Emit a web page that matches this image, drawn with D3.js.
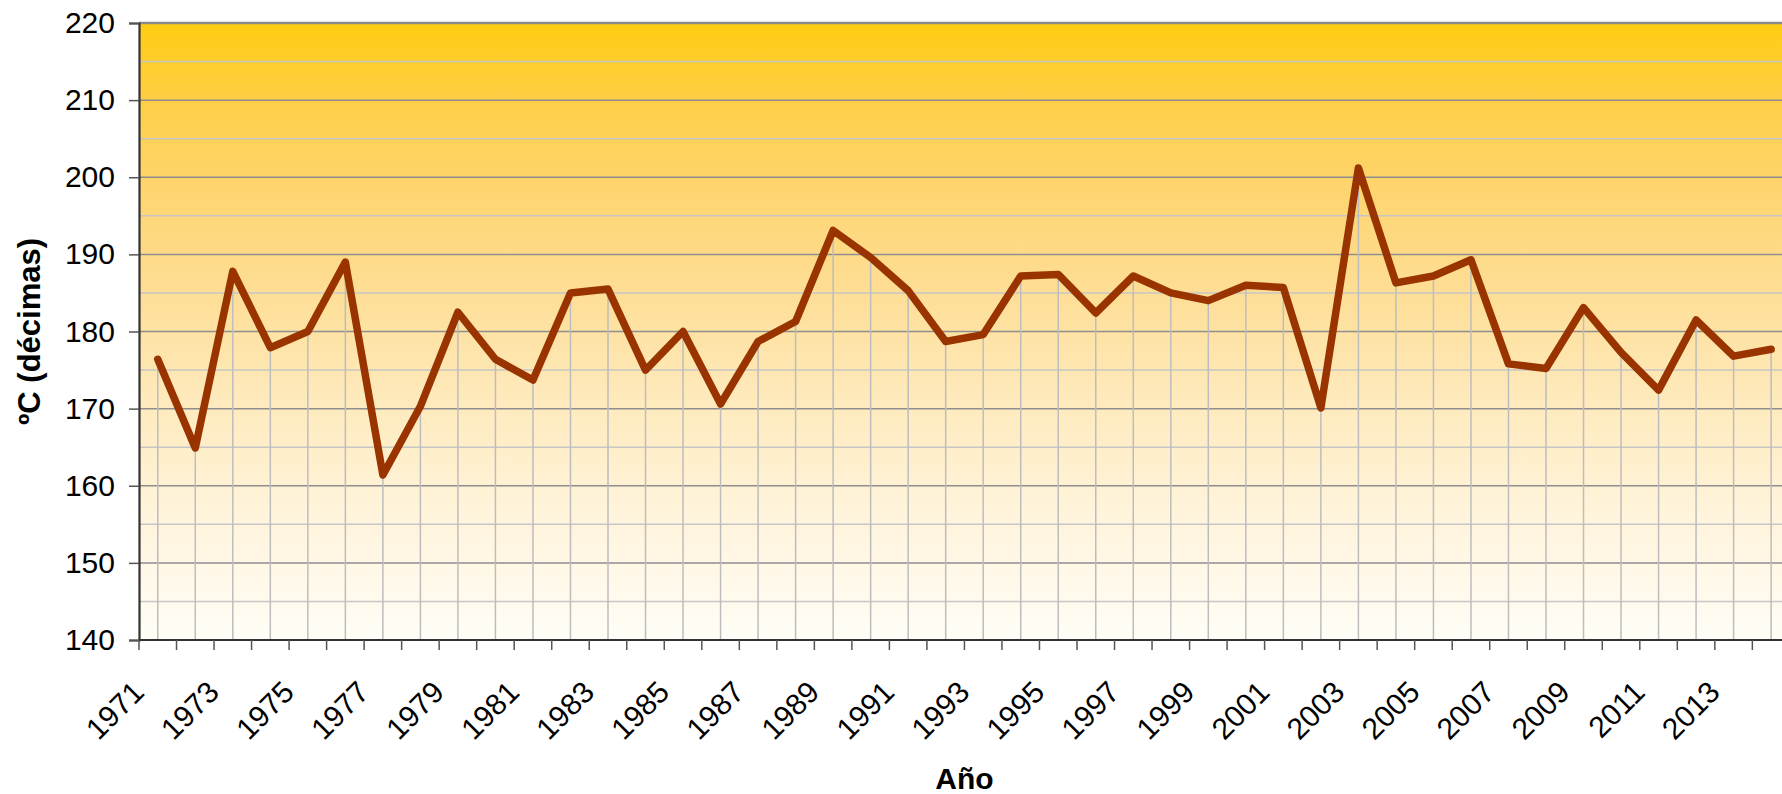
<!DOCTYPE html>
<html>
<head>
<meta charset="utf-8">
<script src="https://cdn.jsdelivr.net/npm/d3@7"></script>
<style>
  html, body { margin: 0; padding: 0; background: #ffffff; }
  svg { display: block; }
  text { font-family: "Liberation Sans", Arial, Helvetica, sans-serif; fill: #000; }
</style>
</head>
<body>
<svg id="chart" width="1782" height="794"></svg>
<script>
// ---- data ----
const years = d3.range(1971, 2015).map(String);
const values = [
  176.4, 164.9, 187.8, 177.9, 180.0, 189.0, 161.4, 170.3, 182.5, 176.4,
  173.7, 185.0, 185.5, 175.0, 180.0, 170.6, 178.7, 181.3, 193.1, 189.6,
  185.3, 178.7, 179.6, 187.2, 187.4, 182.4, 187.2, 185.0, 184.0, 186.0,
  185.7, 170.1, 201.2, 186.3, 187.2, 189.3, 175.8, 175.2, 183.1, 177.3,
  172.4, 181.5, 176.8, 177.7
];
const yMajorTicks = [140, 150, 160, 170, 180, 190, 200, 210, 220];
const yMinorTicks = [145, 155, 165, 175, 185, 195, 205, 215];
const xLabelYears = years.filter((d, i) => i % 2 === 0);
const yTitle = "ºC (décimas)";
const xTitle = "Año";

// ---- layout ----
const svg = d3.select("#chart");
const pLeft = 139, pTop = 23, pBottom = 640;
const band = 37.52;
const pRight = pLeft + band * years.length;

const x = d3.scaleBand().domain(years).range([pLeft, pRight]).paddingInner(0).paddingOuter(0);
const y = d3.scaleLinear().domain([140, 220]).range([pBottom, pTop]);

// gradient background
const defs = svg.append("defs");
const grad = defs.append("linearGradient").attr("id", "bg")
  .attr("x1", 0).attr("y1", 0).attr("x2", 0).attr("y2", 1);
[[0, "#FFCC11"], [0.13, "#FECF48"], [0.26, "#FED46C"], [0.42, "#FEDD92"],
 [0.6, "#FEE9BA"], [0.8, "#FFF4DC"], [1, "#FFFDF6"]].forEach(([o, c]) =>
  grad.append("stop").attr("offset", o).attr("stop-color", c));

svg.append("rect").attr("x", pLeft).attr("y", pTop)
  .attr("width", pRight - pLeft).attr("height", pBottom - pTop)
  .attr("fill", "url(#bg)");

// gridlines
const grid = svg.append("g");
grid.selectAll("line.minor").data(yMinorTicks).join("line")
  .attr("class", "minor")
  .attr("x1", pLeft).attr("x2", pRight)
  .attr("y1", d => y(d)).attr("y2", d => y(d))
  .attr("stroke", "#C6C6C6").attr("stroke-width", 1.5);
grid.selectAll("line.major").data(yMajorTicks.filter(d => d !== 140)).join("line")
  .attr("class", "major")
  .attr("x1", pLeft).attr("x2", pRight)
  .attr("y1", d => y(d)).attr("y2", d => y(d))
  .attr("stroke", d => d === 220 ? "#8A8A8A" : "#8E8E8E")
  .attr("stroke-width", d => d === 220 ? 2.5 : 1.5);

// drop lines
svg.append("g").selectAll("line").data(years).join("line")
  .attr("x1", d => x(d) + x.bandwidth() / 2)
  .attr("x2", d => x(d) + x.bandwidth() / 2)
  .attr("y1", (d, i) => y(values[i]))
  .attr("y2", pBottom)
  .attr("stroke", "#BDBDBD").attr("stroke-width", 1.5);

// series line
const line = d3.line()
  .x((d, i) => x(years[i]) + x.bandwidth() / 2)
  .y(d => y(d));
svg.append("path").datum(values)
  .attr("d", line)
  .attr("fill", "none")
  .attr("stroke", "#993300")
  .attr("stroke-width", 7.5)
  .attr("stroke-linejoin", "round")
  .attr("stroke-linecap", "round");

// y axis
const yAxis = d3.axisLeft(y).tickValues(yMajorTicks).tickSize(10).tickPadding(14);
const gy = svg.append("g").attr("transform", `translate(${pLeft},0)`).call(yAxis);
gy.select(".domain").attr("stroke", "#333").attr("stroke-width", 2.2);
gy.selectAll(".tick line").attr("stroke", "#555").attr("stroke-width", 1.5);
gy.selectAll(".tick text")
  .style("font-family", '"Liberation Sans", Arial, sans-serif')
  .style("font-size", "30px").attr("fill", "#000");

// x axis (ticks at category boundaries)
const boundaries = d3.range(years.length + 1).map(i => pLeft + i * band);
const gx = svg.append("g");
gx.append("line").attr("x1", pLeft).attr("x2", pRight)
  .attr("y1", pBottom).attr("y2", pBottom)
  .attr("stroke", "#333").attr("stroke-width", 2.2);
gx.selectAll("line.tk").data(boundaries).join("line")
  .attr("class", "tk")
  .attr("x1", d => d).attr("x2", d => d)
  .attr("y1", pBottom).attr("y2", pBottom + 10)
  .attr("stroke", "#555").attr("stroke-width", 1.5);
gx.selectAll("text").data(xLabelYears).join("text")
  .attr("transform", d => `translate(${x(d) + x.bandwidth() / 2 - 12},${pBottom + 54}) rotate(-45)`)
  .attr("text-anchor", "end")
  .style("font-size", "30px")
  .text(d => d);

// axis titles
svg.append("text")
  .attr("transform", `translate(40,${(pTop + pBottom) / 2}) rotate(-90)`)
  .attr("text-anchor", "middle")
  .style("font-size", "31px").style("font-weight", "bold")
  .text(yTitle);
svg.append("text")
  .attr("x", (pLeft + pRight) / 2).attr("y", 789)
  .attr("text-anchor", "middle")
  .style("font-size", "30px").style("font-weight", "bold")
  .text(xTitle);
</script>
</body>
</html>
